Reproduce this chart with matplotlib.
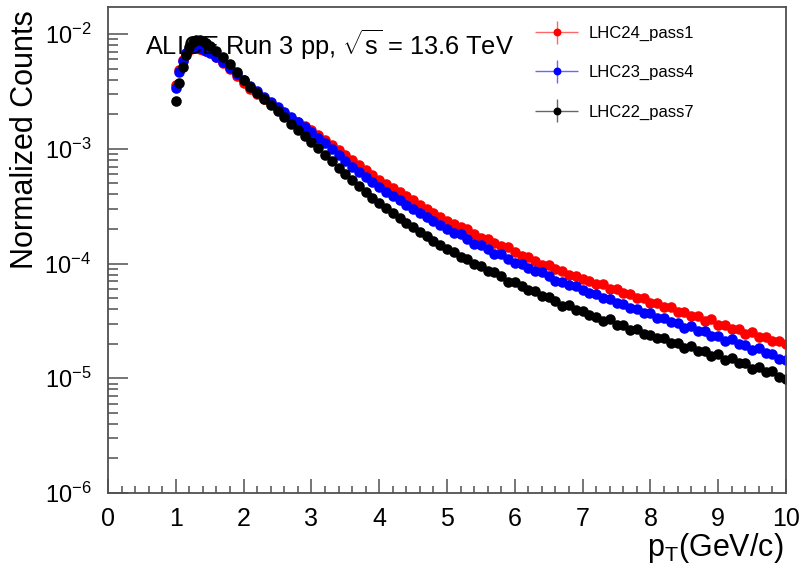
import numpy as np
import matplotlib
matplotlib.use("Agg")
import matplotlib.pyplot as plt
from matplotlib.container import ErrorbarContainer
from matplotlib.legend_handler import HandlerErrorbar
from matplotlib.ticker import LogLocator, MultipleLocator, NullFormatter

plt.rcParams['font.family'] = ['Liberation Sans', 'DejaVu Sans']
plt.rcParams['mathtext.fontset'] = 'custom'
plt.rcParams['mathtext.rm'] = 'Liberation Sans'
plt.rcParams['mathtext.it'] = 'Liberation Sans'
plt.rcParams['mathtext.default'] = 'regular'

# bin centres (GeV/c): finer near the turn-on
pt = np.round(np.concatenate([np.arange(1.0, 1.5, 0.05), np.arange(1.5, 10.001, 0.1)]), 3)

lhc24_pass1 = [
    3.60e-3, 4.86e-3, 5.94e-3, 6.84e-3, 7.26e-3, 7.55e-3, 7.55e-3, 7.41e-3, 7.26e-3, 7.11e-3, 6.97e-3,
    6.31e-3, 5.59e-3, 4.96e-3, 4.31e-3, 3.75e-3,
    3.32e-3, 3.01e-3, 2.72e-3, 2.46e-3, 2.23e-3, 2.06e-3, 1.86e-3, 1.72e-3, 1.58e-3, 1.46e-3,
    1.32e-3, 1.20e-3, 1.08e-3, 9.80e-4, 8.87e-4, 8.02e-4, 7.26e-4, 6.57e-4, 5.94e-4, 5.37e-4,
    4.96e-4, 4.58e-4, 4.23e-4, 3.90e-4, 3.60e-4, 3.26e-4, 3.01e-4, 2.78e-4, 2.56e-4, 2.37e-4,
    2.23e-4, 2.06e-4, 1.98e-4, 1.82e-4, 1.68e-4, 1.65e-4, 1.52e-4, 1.41e-4, 1.38e-4, 1.27e-4,
    1.17e-4, 1.15e-4, 1.06e-4, 9.80e-5, 9.61e-5, 8.87e-5, 8.69e-5, 8.02e-5, 7.86e-5, 7.26e-5,
    7.11e-5, 6.57e-5, 6.57e-5, 5.94e-5, 5.94e-5, 5.48e-5, 5.37e-5, 4.96e-5, 4.96e-5, 4.49e-5,
    4.49e-5, 4.14e-5, 4.14e-5, 3.75e-5, 3.75e-5, 3.46e-5, 3.46e-5, 3.13e-5, 3.26e-5, 2.89e-5,
    2.89e-5, 2.67e-5, 2.67e-5, 2.41e-5, 2.51e-5, 2.27e-5, 2.27e-5, 2.10e-5, 2.10e-5, 1.98e-5,
]
lhc23_pass4 = [
    3.39e-3, 4.67e-3, 5.82e-3, 6.84e-3, 7.41e-3, 7.71e-3, 7.71e-3, 7.55e-3, 7.41e-3, 7.11e-3, 6.84e-3,
    6.31e-3, 5.71e-3, 5.06e-3, 4.49e-3, 3.98e-3,
    3.53e-3, 3.19e-3, 2.83e-3, 2.56e-3, 2.32e-3, 2.10e-3, 1.90e-3, 1.72e-3, 1.55e-3, 1.41e-3,
    1.25e-3, 1.13e-3, 1.00e-3, 8.87e-4, 7.86e-4, 6.97e-4, 6.31e-4, 5.71e-4, 5.16e-4, 4.67e-4,
    4.23e-4, 3.90e-4, 3.60e-4, 3.26e-4, 3.01e-4, 2.78e-4, 2.56e-4, 2.37e-4, 2.18e-4, 2.01e-4,
    1.86e-4, 1.79e-4, 1.65e-4, 1.49e-4, 1.46e-4, 1.35e-4, 1.22e-4, 1.20e-4, 1.10e-4, 1.02e-4,
    1.00e-4, 9.23e-5, 8.52e-5, 8.35e-5, 7.71e-5, 7.11e-5, 6.97e-5, 6.44e-5, 6.31e-5, 5.82e-5,
    5.48e-5, 5.37e-5, 4.96e-5, 4.86e-5, 4.49e-5, 4.40e-5, 4.06e-5, 3.98e-5, 3.67e-5, 3.67e-5,
    3.32e-5, 3.32e-5, 3.07e-5, 3.01e-5, 2.72e-5, 2.83e-5, 2.56e-5, 2.56e-5, 2.32e-5, 2.32e-5,
    2.10e-5, 2.18e-5, 1.98e-5, 1.94e-5, 1.75e-5, 1.82e-5, 1.65e-5, 1.62e-5, 1.46e-5, 1.43e-5,
]
lhc22_pass7 = [
    2.61e-3, 3.75e-3, 5.16e-3, 6.57e-3, 7.71e-3, 8.52e-3, 8.87e-3, 8.87e-3, 8.69e-3, 8.35e-3, 7.86e-3,
    7.11e-3, 6.31e-3, 5.48e-3, 4.67e-3, 3.98e-3,
    3.46e-3, 3.07e-3, 2.72e-3, 2.41e-3, 2.14e-3, 1.90e-3, 1.65e-3, 1.46e-3, 1.30e-3, 1.15e-3,
    1.02e-3, 8.87e-4, 7.86e-4, 6.84e-4, 6.06e-4, 5.37e-4, 4.77e-4, 4.23e-4, 3.75e-4, 3.39e-4,
    3.07e-4, 2.78e-4, 2.51e-4, 2.27e-4, 2.06e-4, 1.90e-4, 1.72e-4, 1.58e-4, 1.46e-4, 1.35e-4,
    1.25e-4, 1.13e-4, 1.10e-4, 1.00e-4, 9.42e-5, 8.52e-5, 8.35e-5, 7.71e-5, 6.97e-5, 6.84e-5,
    6.31e-5, 5.82e-5, 5.71e-5, 5.16e-5, 5.06e-5, 4.67e-5, 4.23e-5, 4.31e-5, 3.90e-5, 3.82e-5,
    3.53e-5, 3.39e-5, 3.13e-5, 3.26e-5, 2.89e-5, 2.89e-5, 2.61e-5, 2.67e-5, 2.41e-5, 2.37e-5,
    2.23e-5, 2.23e-5, 2.01e-5, 2.01e-5, 1.82e-5, 1.90e-5, 1.72e-5, 1.72e-5, 1.55e-5, 1.62e-5,
    1.43e-5, 1.49e-5, 1.35e-5, 1.35e-5, 1.20e-5, 1.25e-5, 1.13e-5, 1.15e-5, 1.02e-5, 9.8e-6,
]

labels = ['LHC24_pass1', 'LHC23_pass4', 'LHC22_pass7']
colors = ['#ff0000', '#0000ff', '#000000']
series = [lhc24_pass1, lhc23_pass4, lhc22_pass7]

fig = plt.figure(figsize=(8.01, 5.68), dpi=100)
ax = fig.add_axes([108 / 801, 1 - 493 / 568, 678 / 801, 486 / 568])

handles = []
for vals, c, lab in zip(series, colors, labels):
    h = ax.errorbar(pt, vals, xerr=0.025, yerr=0, fmt='o', ms=7.6, color=c,
                    mec='none', ecolor=c, elinewidth=1, label=lab)
    for bar in h[2]:
        bar.set_alpha(0.6)
    handles.append(h)

ax.set_xlim(0, 10)
ax.set_yscale('log')
ax.set_ylim(1e-6, 1.72e-2)

ax.xaxis.set_major_locator(MultipleLocator(1))
ax.xaxis.set_minor_locator(MultipleLocator(0.2))
ax.yaxis.set_major_locator(LogLocator(base=10, numticks=10))
ax.yaxis.set_minor_locator(LogLocator(base=10, subs=np.arange(2, 10), numticks=10))
ax.yaxis.set_minor_formatter(NullFormatter())

frame = '#505050'
for s in ax.spines.values():
    s.set_color(frame)
    s.set_linewidth(1.3)
ax.tick_params(which='both', direction='in', top=False, right=False, color=frame, width=1.1)
ax.tick_params(axis='x', which='major', length=10, labelsize=18, pad=10)
ax.tick_params(axis='x', which='minor', length=5)
ax.tick_params(axis='y', which='major', length=14.5, labelsize=17, pad=12)
ax.tick_params(axis='y', which='minor', length=7.2)

fig.text(25 / 801, 1 - 10 / 568, 'Normalized Counts', rotation=90, ha='center', va='top', fontsize=22)
fig.text(783 / 801, 1 - 556 / 568, r'$p_{T}$(GeV/c)', ha='right', va='baseline', fontsize=22)

ax.text(0.0546, 0.901, r'ALICE Run 3 pp, $\sqrt{s}$ = 13.6 TeV', transform=ax.transAxes,
        fontsize=18.3, ha='left', va='baseline')

leg = ax.legend(handles=handles, labels=labels, loc='upper left',
                bbox_to_anchor=(535 / 801, 1 - 26 / 568), bbox_transform=fig.transFigure,
                frameon=False, fontsize=12, handlelength=2.6, handletextpad=0.6,
                labelspacing=1.45, borderpad=0, borderaxespad=0, markerscale=0.75,
                handler_map={ErrorbarContainer: HandlerErrorbar(xerr_size=1.3, yerr_size=0.7)})

fig.savefig('out.png', dpi=100)
